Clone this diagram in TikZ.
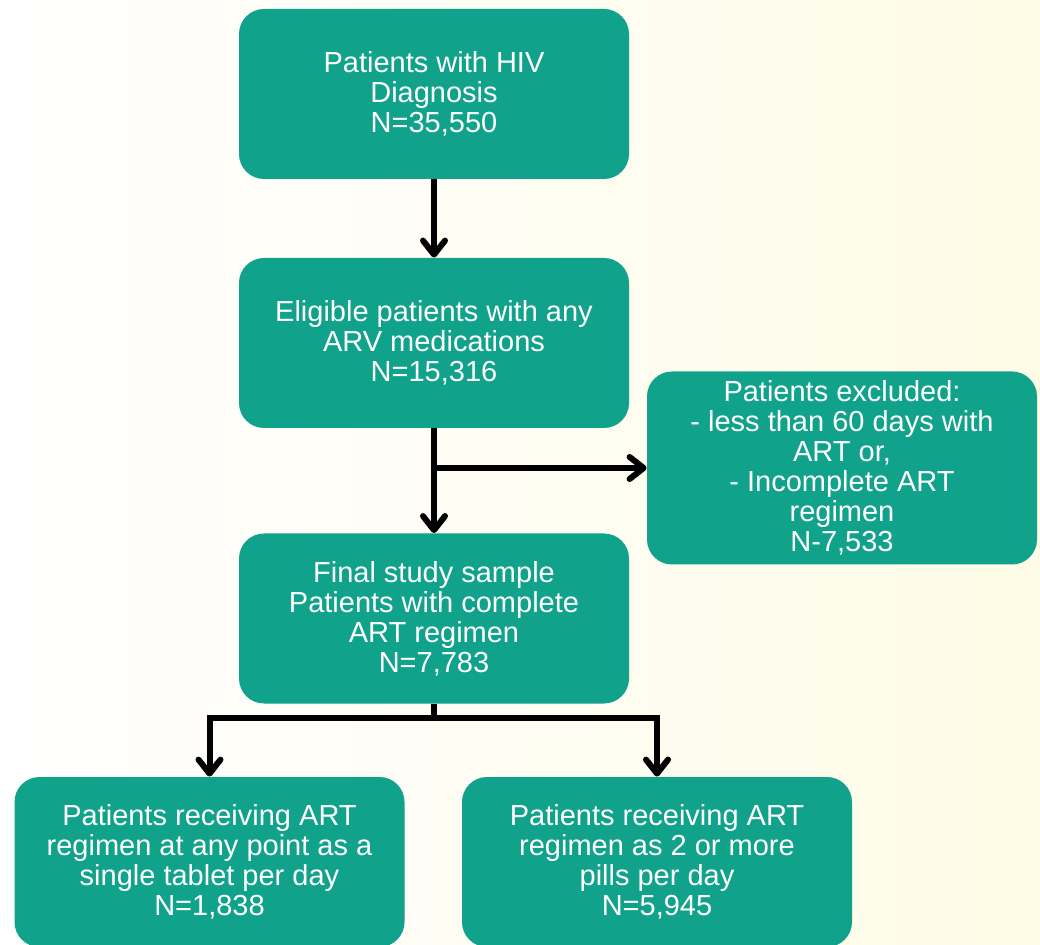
\documentclass[tikz,border=0pt]{standalone}
\usepackage{fontspec}
\setmainfont{Liberation Sans}
\usepackage{tikz}
\usetikzlibrary{arrows.meta}
\definecolor{boxteal}{RGB}{17,162,140}
\definecolor{bgyellow}{RGB}{254,251,230}
\tikzstyle{stage}=[fill=boxteal, rounded corners=12.5pt, text=white, align=center, minimum width=195pt, minimum height=85pt, inner sep=2pt, font=\fontsize{14.5}{15}\selectfont]
\tikzstyle{flow}=[line width=3pt, -{Straight Barb[length=7pt,width=11pt,line cap=round,line join=round]}]
\tikzstyle{flowline}=[line width=3pt]

\begin{document}
\begin{tikzpicture}[x=0.5pt, y=0.5pt]
        \shade[left color=white, right color=bgyellow] (0,0) rectangle (1040,944);
        \useasboundingbox (0,0) rectangle (1040,944);
        \node[stage] (diag) at (434, 850) {Patients with HIV\\Diagnosis\\N=35,550};
        \node[stage] (elig) at (434, 601) {Eligible patients with any\\ARV medications\\N=15,316};
        \node[stage, minimum height=96.5pt] (excl) at (842, 476) {Patients excluded:\\- less than 60 days with\\ART or,\\- Incomplete ART\\regimen\\N-7,533};
        \node[stage] (final) at (434, 325.5) {Final study sample\\Patients with complete\\ART regimen\\N=7,783};
        \node[stage] (single) at (209.5, 82) {Patients receiving ART\\regimen at any point as a\\single tablet per day\\N=1,838};
        \node[stage] (multi) at (657, 82) {Patients receiving ART\\regimen as 2 or more\\pills per day\\N=5,945};
        \draw[flow] (diag.south) -- (elig.north);
        \draw[flow] (elig.south) -- (final.north);
        \draw[flow] (elig.south |- excl.west) -- (excl.west);
        \draw[flowline] (final.south) -- ++(0,-14) coordinate (split);
        \draw[flow] (split) -| (single.north);
        \draw[flow] (split) -| (multi.north);
    \end{tikzpicture}
\end{document}
